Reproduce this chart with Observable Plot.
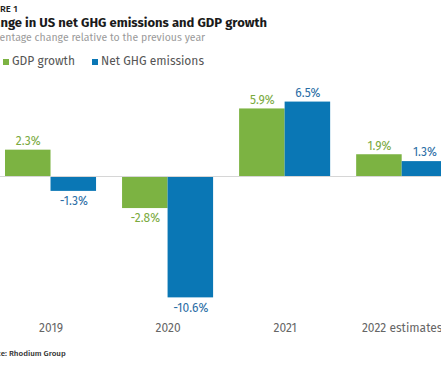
<!DOCTYPE html>
<html>
<head>
<meta charset="utf-8">
<script src="https://cdn.jsdelivr.net/npm/d3@7"></script>
<script src="https://cdn.jsdelivr.net/npm/@observablehq/plot@0.6"></script>
<style>
  html, body { margin: 0; padding: 0; background: #fff; }
  body { width: 441px; height: 368px; overflow: hidden; position: relative; font-family: "Fira Sans", Roboto, "Noto Sans", sans-serif; }
  #wrap { position: absolute; left: -22px; top: 0; width: 480px; height: 368px; }
  .t { position: absolute; left: 0; white-space: nowrap; }
  #fig { top: 4px; left: 2.3px; font-size: 9.5px; font-weight: 500; color: #222; line-height: 11px; }
  #title { top: 15px; left: 0.5px; font-size: 13px; font-weight: 700; color: #1a1a1a; line-height: 16px; }
  #sub { top: 31px; left: 1.5px; font-size: 10.5px; color: #9a9a9a; line-height: 13px; }
  #legend { top: 54px; left: 25px; font-size: 12px; color: #555; line-height: 15px; display: flex; align-items: center; }
  .sw { display: inline-block; width: 6px; height: 6px; margin-right: 3px; }
  .item { display: flex; align-items: center; margin-right: 17px; }
  #chart { position: absolute; left: 0; top: 75px; }
  #src { top: 349px; left: 2.3px; font-size: 8px; font-weight: 500; color: #333; line-height: 10px; }
</style>
</head>
<body>
<div id="wrap">
  <div class="t" id="fig">FIGURE 1</div>
  <div class="t" id="title">Change in US net GHG emissions and GDP growth</div>
  <div class="t" id="sub">Percentage change relative to the previous year</div>
  <div class="t" id="legend"></div>
  <div id="chart"></div>
  <div class="t" id="src">Source: Rhodium Group</div>
</div>
<script>
const years = ["2019", "2020", "2021", "2022 estimates"];
const series = ["GDP growth", "Net GHG emissions"];
const gdpGrowth = [2.3, -2.8, 5.9, 1.9];
const netGhg = [-1.3, -10.6, 6.5, 1.3];

const barColors = ["#7cb342", "#0a77b5"];
const labelColors = ["#7aaa3e", "#2a6da5"];

const rows = [];
years.forEach((y, i) => {
  rows.push({year: y, series: series[0], value: gdpGrowth[i]});
  rows.push({year: y, series: series[1], value: netGhg[i]});
});
const labelColor = d => labelColors[series.indexOf(d.series)];
const fmt = d => d.value.toFixed(1) + "%";

// legend
const legend = document.getElementById("legend");
series.forEach((s, i) => {
  const it = document.createElement("span");
  it.className = "item";
  const sw = document.createElement("span");
  sw.className = "sw";
  sw.style.background = barColors[i];
  it.appendChild(sw);
  it.appendChild(document.createTextNode(s));
  legend.appendChild(it);
});

const chart = Plot.plot({
  width: 480,
  height: 270,
  marginLeft: 27,
  marginRight: 10.8,
  marginTop: 9.4,
  marginBottom: 31.6,
  style: {fontFamily: '"Fira Sans", Roboto, sans-serif', fontSize: "12px", color: "#666", background: "transparent", overflow: "visible"},
  facet: {data: rows, x: "year"},
  fx: {domain: years, paddingInner: 26 / 117, paddingOuter: 0, round: false, axis: "bottom", tickSize: 0, tickPadding: 10, label: null},
  x: {domain: series, padding: 0, round: false, axis: null},
  y: {domain: [-12, 8], axis: null},
  color: {domain: series, range: barColors},
  marks: [
    Plot.barY(rows, {x: "series", y: "value", fill: "series"}),
    Plot.ruleY([0], {stroke: "#d6d6d6", strokeWidth: 1, insetLeft: -40, insetRight: -40}),
    Plot.text(rows, {filter: d => d.value >= 0, x: "series", y: "value", text: fmt, fill: labelColor, dy: -9, fontSize: 12}),
    Plot.text(rows, {filter: d => d.value < 0, x: "series", y: "value", text: fmt, fill: labelColor, dy: 10, fontSize: 12})
  ]
});
document.getElementById("chart").appendChild(chart);
</script>
</body>
</html>
